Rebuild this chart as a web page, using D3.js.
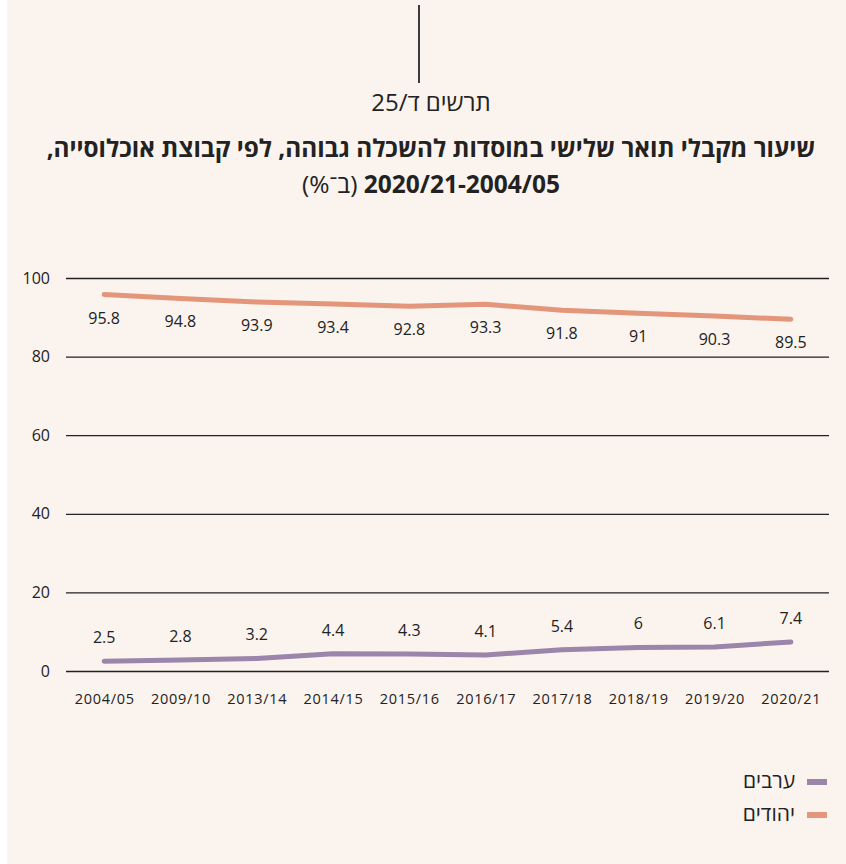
<!DOCTYPE html>
<html><head><meta charset="utf-8">
<script src="https://cdn.jsdelivr.net/npm/d3@7"></script>
<style>
html,body{margin:0;padding:0;background:#fff;}
svg{display:block;font-family:"Open Sans","Noto Sans",sans-serif;}
</style></head>
<body>
<svg id="c" width="846" height="864"></svg>
<script>
const years = ["2004/05","2009/10","2013/14","2014/15","2015/16","2016/17","2017/18","2018/19","2019/20","2020/21"];
const jews = [95.8,94.8,93.9,93.4,92.8,93.3,91.8,91,90.3,89.5];
const arabs = [2.5,2.8,3.2,4.4,4.3,4.1,5.4,6,6.1,7.4];
const yTicks = [0,20,40,60,80,100];
const seriesNames = ["ערבים","יהודים"];
const chartLabel = "תרשים ד/25";
const titleLine1 = "שיעור מקבלי תואר שלישי במוסדות להשכלה גבוהה, לפי קבוצת אוכלוסייה,";
const titleYears = "2020/21-2004/05";
const titleUnit = "(ב־%)";

const colors = {jews:"#e3967a", arabs:"#9b85ab"};
const svg = d3.select("#c");
svg.append("rect").attr("x",7).attr("y",0).attr("width",839).attr("height",864).attr("fill","#fbf3ee");

svg.append("line").attr("x1",419).attr("x2",419).attr("y1",5).attr("y2",83)
  .attr("stroke","#3a3a3a").attr("stroke-width",2);

svg.append("text").attr("x",431).attr("y",111).attr("text-anchor","middle")
  .attr("direction","rtl").attr("font-size",24).attr("fill","#222").text(chartLabel);

svg.append("text").attr("x",431).attr("y",157).attr("text-anchor","middle")
  .attr("direction","rtl").attr("font-size",24.3).attr("font-weight","bold").attr("fill","#222").text(titleLine1);

const t2 = svg.append("text").attr("x",431).attr("y",193).attr("text-anchor","middle")
  .attr("direction","rtl").attr("font-size",24.5).attr("fill","#222");
t2.append("tspan").attr("font-weight","bold").text(titleYears);
t2.append("tspan").text(" " + titleUnit);

const x = d3.scalePoint().domain(years).range([66,829]).padding(0.5);
const y = d3.scaleLinear().domain([0,100]).range([671,278]);

// gridlines
const yAxis = d3.axisLeft(y).tickValues(yTicks).tickSize(-763).tickPadding(16).tickFormat(d3.format("d"));
const gy = svg.append("g").attr("transform","translate(66,0)").call(yAxis);
gy.select(".domain").remove();
gy.selectAll(".tick line").attr("stroke","#222").attr("stroke-width",1.3);
gy.selectAll(".tick text").attr("font-size",16).attr("fill","#222").attr("font-family","'Open Sans',sans-serif");

// x axis labels
const xAxis = d3.axisBottom(x).tickSize(0).tickPadding(0);
const gx = svg.append("g").attr("transform","translate(0,694)").call(xAxis);
gx.select(".domain").remove();
gx.selectAll(".tick text").attr("font-size",14.5).attr("fill","#222").attr("letter-spacing",0.7)
  .attr("font-family","'Open Sans',sans-serif");

const line = d3.line().x((d,i)=>x(years[i])).y(d=>y(d));
svg.append("path").datum(jews).attr("d",line).attr("fill","none")
  .attr("stroke",colors.jews).attr("stroke-width",5).attr("stroke-linecap","round").attr("stroke-linejoin","round");
svg.append("path").datum(arabs).attr("d",line).attr("fill","none")
  .attr("stroke",colors.arabs).attr("stroke-width",5).attr("stroke-linecap","round").attr("stroke-linejoin","round");

svg.append("g").selectAll("text").data(jews).join("text")
  .attr("x",(d,i)=>x(years[i])).attr("y",d=>y(d)+29).attr("text-anchor","middle")
  .attr("font-size",16).attr("fill","#222").text(d=>d);
svg.append("g").selectAll("text").data(arabs).join("text")
  .attr("x",(d,i)=>x(years[i])).attr("y",d=>y(d)-18).attr("text-anchor","middle")
  .attr("font-size",16).attr("fill","#222").text(d=>d);

// legend
const leg = [{n:seriesNames[0],c:colors.arabs,yy:782},{n:seriesNames[1],c:colors.jews,yy:815}];
const lg = svg.append("g");
leg.forEach(l=>{
  lg.append("rect").attr("x",807).attr("y",l.yy-3).attr("width",20).attr("height",6).attr("fill",l.c);
  lg.append("text").attr("x",795).attr("y",l.yy+6).attr("text-anchor","start").attr("direction","rtl")
    .attr("font-size",21).attr("fill","#222").text(l.n);
});
</script>
</body></html>
